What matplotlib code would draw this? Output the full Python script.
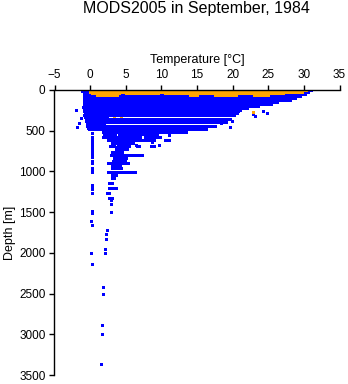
import matplotlib
matplotlib.use("Agg")
import matplotlib.pyplot as plt

plt.rcParams['font.family'] = ['Liberation Sans', 'DejaVu Sans']

# values: temperature [degC], depth [m]
# dense part of the cloud as horizontal runs (depth, from temp, to temp)
blue_run_depth = [0, 24, 48, 72, 96, 120, 144, 168, 192, 216, 240, 264, 288, 312,
                  336, 356, 377, 399, 420, 442, 462, 485, 512,
                  540, 540, 573, 573, 573, 610, 610, 650, 690, 690, 690, 690,
                  730, 760, 800, 840, 870, 900, 935, 960, 1003, 1044, 1085,
                  1146, 1208, 1262, 1331]
blue_run_t0 = [-0.5, -0.8, -0.8, -0.8, -0.8, -0.8, -0.8, -0.8, -0.8, -0.8, -0.8, -0.8, -0.7, -0.7,
               -0.7, -0.6, -0.6, -0.5, -0.5, -0.4, -0.3, -0.2, 1.8,
               2.0, 4.0, 1.8, 4.3, 7.7, 2.5, 10.5, 3.0, 2.8, 3.9, 6.6, 8.6,
               3.6, 3.0, 2.9, 3.3, 3.2, 2.5, 3.0, 3.0, 2.5, 3.0, 3.0,
               2.7, 2.7, 2.3, 2.6]
blue_run_t1 = [31.0, 30.6, 30.1, 29.4, 28.8, 28.0, 26.2, 25.4, 23.6, 22.0, 21.0, 20.8, 20.6, 20.2,
               2.3, 19.6, 2.3, 19.0, 2.0, 17.5, 2.0, 16.2, 13.2,
               3.5, 9.0, 3.9, 7.0, 9.8, 9.0, 11.0, 6.0, 3.3, 5.5, 6.9, 9.0,
               5.2, 4.5, 7.3, 5.0, 4.9, 5.3, 4.2, 4.4, 5.9, 3.7, 3.4,
               3.1, 3.7, 2.7, 3.1]

# single blue casts outside the dense part
blue_temp = [-1.1, -2.0, -1.0, -0.9, -1.3, -1.6, -1.9,
             22.9, 23.2, 24.3, 24.8, 18.3, 18.3, 19.6, 19.9, 19.7,
             0.2, 0.2, 0.2, 0.2, 0.2, 0.2, 0.2, 0.2, 0.2, 0.2, 0.2, 0.2,
             0.2, 0.2, 0.2, 0.2, 0.2, 0.2, 0.2, 0.2, 0.2, 0.2, 0.1, 0.2, 0.1, 0.2,
             3.0, 5.6, 7.7, 9.4, 11.0, 13.4, 3.2, 8.7, 9.6, 6.5, 3.7, 6.3,
             2.9, 2.9, 2.9, 2.4, 2.25, 2.25, 2.15, 2.1,
             1.8, 1.8, 1.7, 1.6, 1.5]
blue_depth = [8, 246, 205, 307, 348, 409, 452,
              300, 320, 260, 280, 380, 410, 350, 375, 460,
              532, 573, 614, 640, 665, 690, 715, 740, 770, 800, 820, 870,
              895, 960, 985, 1003, 1170, 1195, 1210, 1265, 1486, 1507, 1606, 1658, 2006, 2141,
              573, 573, 553, 553, 553, 512, 655, 635, 676, 676, 696, 1003,
              1351, 1400, 1495, 1720, 1773, 1835, 1953, 2006,
              2420, 2502, 2891, 3002, 3366]

# surface casts (orange), runs and single points
orange_run_depth = [0, 20, 40, 40, 40, 58, 58, 58, 58]
orange_run_t0 = [0.0, 0.0, 0.3, 5.0, 10.5, 1.0, 14.0, 17.5, 23.0]
orange_run_t1 = [30.3, 29.8, 4.0, 9.5, 27.0, 3.8, 15.0, 20.5, 25.0]

orange_temp = [2.6, 4.8, 5.7, 6.3, 7.4, 9.3, 11.3, 12.4, 14.3, 16.8, 17.1,
               18.2, 20.0, 21.0, 22.8, 4.3, 5.4, 5.5, 3.4, 4.4]
orange_depth = [110, 110, 110, 112, 123, 110, 82, 110, 100, 110, 95,
                156, 144, 85, 266, 213, 213, 274, 315, 315]

blue = '#0000ff'
orange = '#ffa500'
lw = 3 * 72 / 100.0  # 3 px lines / markers
msize = lw ** 2

fig = plt.figure(figsize=(3.48, 3.84), dpi=100)
ax = fig.add_axes([54.5 / 348, 1 - 375 / 384, 285 / 348, 285 / 384])

ax.hlines(blue_run_depth, blue_run_t0, blue_run_t1, colors=blue, linewidth=lw,
          capstyle='projecting', antialiased=False)
ax.scatter(blue_temp, blue_depth, s=msize, marker='s', c=blue, linewidths=0,
           antialiased=False)
ax.hlines(orange_run_depth, orange_run_t0, orange_run_t1, colors=orange, linewidth=lw,
          capstyle='projecting', antialiased=False)
ax.scatter(orange_temp, orange_depth, s=msize, marker='s', c=orange, linewidths=0,
           antialiased=False)

ax.set_xlim(-5, 35)
ax.set_ylim(3500, 0)
ax.set_xticks(range(-5, 36, 5))
ax.set_yticks(range(0, 3501, 500))
ax.xaxis.tick_top()
ax.xaxis.set_label_position('top')
for side in ['right', 'bottom']:
    ax.spines[side].set_visible(False)
for side in ['top', 'left']:
    ax.spines[side].set_linewidth(1.0)
ax.tick_params(direction='out', length=3.5, width=1.0, labelsize=8.5, pad=3)
ax.set_xlabel('Temperature [°C]', fontsize=9, labelpad=4)
ax.set_ylabel('Depth [m]', fontsize=9, labelpad=2)

fig.text(196 / 348, 1 - 1 / 384, 'MODS2005 in September, 1984', ha='center', va='top',
         fontsize=11.5)

fig.savefig('out.png', dpi=100)
